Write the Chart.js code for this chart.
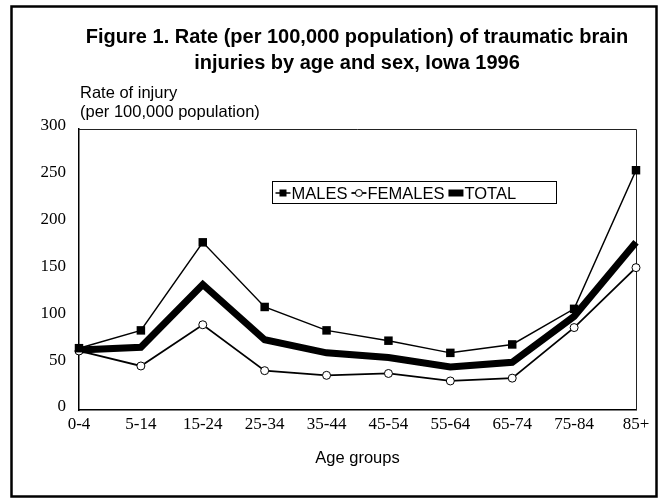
<!DOCTYPE html>
<html>
<head>
<meta charset="utf-8">
<script src="https://cdn.jsdelivr.net/npm/chart.js@4/dist/chart.umd.min.js"></script>
<style>
  body { margin: 0; background: #fff; }
  canvas { display: block; }
</style>
</head>
<body>
<canvas id="tbiChart" width="662" height="499"></canvas>
<script>
// Age groups and rates per 100,000
const ageGroups = ['0-4', '5-14', '15-24', '25-34', '35-44', '45-54', '55-64', '65-74', '75-84', '85+'];
const males = [66, 85, 179, 110, 85, 74, 61, 70, 108, 256];
const females = [63, 47, 91, 42, 37, 39, 31, 34, 88, 152];
const total = [64, 67, 134, 75, 61, 56, 46, 51, 100, 179];

const titleLines = ['Figure 1. Rate (per 100,000 population) of traumatic brain', 'injuries by age and sex, Iowa 1996'];
const yCaption = ['Rate of injury', '(per 100,000 population)'];
const xCaption = 'Age groups';

const SANS = '"Liberation Sans", Arial, sans-serif';
const SERIF = '"Liberation Serif", "Times New Roman", serif';

// frame, heading, axis caption and the boxed legend inside the plot
const decorations = {
    id: 'decorations',
    beforeDatasetsDraw(chart) {
        const c = chart.ctx;
        const a = chart.chartArea;
        c.save();
        c.strokeStyle = '#222';
        c.lineWidth = 1;
        c.beginPath();
        c.moveTo(a.left, a.top + 0.5);
        c.lineTo(a.right + 0.5, a.top + 0.5);
        c.lineTo(a.right + 0.5, a.bottom);
        c.stroke();
        c.restore();
    },
    afterDraw(chart) {
        const c = chart.ctx;
        c.save();

        // outer frame
        c.strokeStyle = '#000';
        c.lineWidth = 2.5;
        c.strokeRect(11.5, 6.5, 645, 490);

        // heading
        c.fillStyle = '#000';
        c.textAlign = 'center';
        c.textBaseline = 'alphabetic';
        c.font = 'bold 20px ' + SANS;
        titleLines.forEach((t, i) => c.fillText(t, 357, 43 + i * 26));

        // y caption
        c.textAlign = 'left';
        c.font = '16.5px ' + SANS;
        yCaption.forEach((t, i) => c.fillText(t, 80, 98 + i * 19));

        // legend
        const box = { x: 272.5, y: 181.5, w: 284, h: 22 };
        c.lineWidth = 1;
        c.strokeStyle = '#000';
        c.strokeRect(box.x, box.y, box.w, box.h);
        const ly = box.y + box.h / 2 + 0.5;
        let x = box.x + 3;
        c.textBaseline = 'middle';
        chart.data.datasets.forEach(ds => {
            const seg = 15;
            c.strokeStyle = '#000';
            c.lineWidth = ds.borderWidth;
            c.beginPath();
            c.moveTo(x, ly);
            c.lineTo(x + seg, ly);
            c.stroke();
            if (ds.pointStyle === 'rect') {
                c.fillStyle = '#000';
                c.fillRect(x + seg / 2 - 3.5, ly - 3.5, 7, 7);
            } else if (ds.pointStyle === 'circle') {
                c.beginPath();
                c.arc(x + seg / 2, ly, 3.5, 0, Math.PI * 2);
                c.fillStyle = '#fff';
                c.fill();
                c.lineWidth = 1;
                c.stroke();
            }
            c.fillStyle = '#000';
            c.fillText(ds.label, x + seg + 1, ly + 1);
            x += seg + 1 + c.measureText(ds.label).width + 4;
        });

        c.restore();
    }
};

document.addEventListener('DOMContentLoaded', function() {
    const ctx = document.getElementById('tbiChart').getContext('2d');
    new Chart(ctx, {
        type: 'line',
        data: {
            labels: ageGroups,
            datasets: [
                {
                    label: 'MALES',
                    data: males,
                    borderColor: '#000',
                    borderWidth: 1.5,
                    pointStyle: 'rect',
                    pointRadius: 6,
                    pointBackgroundColor: '#000',
                    pointBorderWidth: 0,
                    clip: false
                },
                {
                    label: 'FEMALES',
                    data: females,
                    borderColor: '#000',
                    borderWidth: 1.8,
                    pointStyle: 'circle',
                    pointRadius: 4,
                    pointBackgroundColor: '#fff',
                    pointBorderColor: '#000',
                    pointBorderWidth: 1,
                    clip: false
                },
                {
                    label: 'TOTAL',
                    data: total,
                    borderColor: '#000',
                    borderWidth: 7,
                    pointRadius: 0,
                    clip: false
                }
            ]
        },
        options: {
            responsive: false,
            animation: false,
            devicePixelRatio: 1,
            layout: {
                padding: { top: 129, left: 29, right: 26, bottom: 0 }
            },
            elements: {
                line: { tension: 0, borderJoinStyle: 'miter' }
            },
            plugins: {
                legend: { display: false },
                title: { display: false },
                tooltip: { enabled: false }
            },
            scales: {
                x: {
                    offset: false,
                    grid: { display: false, drawTicks: false, tickLength: 0 },
                    border: { color: '#000', width: 1.5 },
                    ticks: {
                        color: '#000',
                        font: { family: SERIF, size: 17 },
                        padding: 4,
                        maxRotation: 0,
                        autoSkip: false
                    },
                    title: {
                        display: true,
                        text: xCaption,
                        color: '#000',
                        font: { family: SANS, size: 16.5 },
                        padding: { top: 0, bottom: 31 }
                    },
                    afterFit: function(scale) {
                        scale.height = 89;
                    }
                },
                y: {
                    min: 0,
                    max: 300,
                    grid: { display: false, drawTicks: false, tickLength: 0 },
                    border: { color: '#000', width: 1.5 },
                    ticks: {
                        stepSize: 50,
                        color: '#000',
                        font: { family: SERIF, size: 17 },
                        padding: 13,
                        labelOffset: -3
                    },
                    afterFit: function(scale) {
                        scale.width = 50;
                    }
                }
            }
        },
        plugins: [decorations]
    });
});
</script>
</body>
</html>
